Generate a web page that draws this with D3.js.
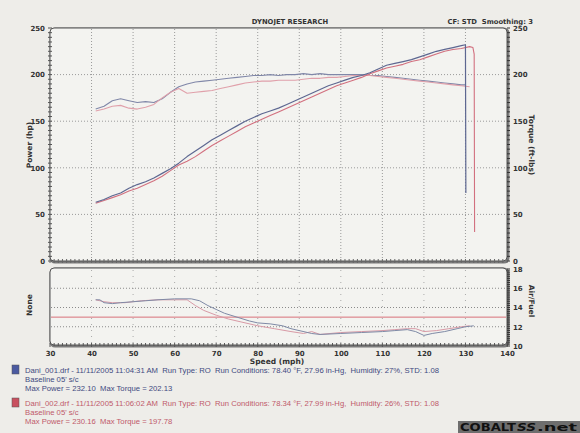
<!DOCTYPE html>
<html>
<head>
<meta charset="utf-8">
<script src="https://cdn.jsdelivr.net/npm/d3@7/dist/d3.min.js"></script>
<style>
  body { margin:0; background:#eeede9; }
  svg { display:block; }
  .tick text { font-family:"DejaVu Sans", Verdana, sans-serif; font-weight:bold; fill:#333; }
</style>
</head>
<body>
<script>
// speed (mph) samples for power / torque runs
var speedA = [41,43,45,47,49,51,53,55,57,59,61,63,65,67,69,71,73,75,77,79,81,83,85,87,89,91,93,95,97,99,101,103,105,107,109,111,113,115,117,119,121,123,125,127,129,130,130.1];
var powerA = [63,66,70,73,78,82,85,89,94,99,105,112,118,124,130,135,140,145,150,154,158,161,164,168,172,176,180,184,188,191,194,197,199,202,206,210,212,214,216,219,222,225,227,229,231,232,73];
var torqueA = [163,166,172,174,172,170,171,170,174,181,187,190,192,193,194,195,196,197,198,199,199,200,199,200,200,201,200,201,200,200,200,200,200,199,199,198,197,196,195,194,193,192,191,190,189,189];

var speedB = [41,43,45,47,49,51,53,55,57,59,61,63,65,67,69,71,73,75,77,79,81,83,85,87,89,91,93,95,97,99,101,103,105,107,109,111,113,115,117,119,121,123,125,127,129,131,131.8,132.1,132.2];
var powerB = [62,65,68,71,75,78,82,86,91,97,103,107,112,118,124,129,134,139,144,148,152,156,160,164,168,172,176,180,184,188,191,194,197,201,204,207,209,211,214,216,219,222,225,227,228,230,229,222,31];
var torqueB = [161,163,166,167,164,163,165,168,175,181,185,180,181,182,183,185,187,189,191,192,193,193,194,194,194,195,196,196,197,197,198,199,199,199,198,197,196,195,194,193,192,191,190,189,188,187];

// air/fuel
var afrSpeedA = [41,42,43,45,47,50,53,56,60,64,66,68,70,72,75,78,80,83,86,88,90,93,95,100,105,110,113,116,118,120,122,125,128,130,132];
var afrA = [14.8,14.8,14.5,14.4,14.5,14.6,14.7,14.8,14.9,14.9,14.7,14.2,13.8,13.4,13.0,12.6,12.4,12.3,12.1,11.8,11.6,11.3,11.2,11.3,11.4,11.5,11.6,11.7,11.5,11.1,11.3,11.5,11.8,12.0,12.1];
var afrSpeedB = [41,43,45,48,52,56,60,63,65,67,70,73,76,80,84,88,91,93,95,100,105,110,113,116,118,120,123,126,129,131];
var afrB = [14.8,14.6,14.5,14.5,14.7,14.8,14.8,14.8,14.2,13.7,13.2,12.8,12.5,12.1,11.8,11.5,11.3,11.5,11.2,11.4,11.5,11.6,11.7,11.8,11.8,11.5,11.6,11.8,12.0,12.1];
var afrTarget = 13;

var speedTicks = [30,40,50,60,70,80,90,100,110,120,130,140];
var powerTicks = [0,50,100,150,200,250];
var afrTicks = [10,12,14,16,18];

var legendA = ["Dani_001.drf - 11/11/2005 11:04:31 AM  Run Type: RO  Run Conditions: 78.40 \u00b0F, 27.96 in-Hg,  Humidity: 27%, STD: 1.08",
               "Baseline 05' s/c", "Max Power = 232.10  Max Torque = 202.13"];
var legendB = ["Dani_002.drf - 11/11/2005 11:06:02 AM  Run Type: RO  Run Conditions: 78.34 \u00b0F, 27.99 in-Hg,  Humidity: 26%, STD: 1.08",
               "Baseline 05' s/c", "Max Power = 230.16  Max Torque = 197.78"];

var blue = "#5d6791", red = "#d2707f";
var W = 580, H = 433;
var L = 50, R = 507;

var svg = d3.select("body").append("svg").attr("width", W).attr("height", H);

var x = d3.scaleLinear().domain([30,140]).range([L,R]);
var y = d3.scaleLinear().domain([0,250]).range([261,28]);
var ya = d3.scaleLinear().domain([10,18]).range([346,269]);

function frame(top, bottom) {
  svg.append("rect").attr("x",L+1).attr("y",top+1).attr("width",R-L).attr("height",bottom-top)
    .attr("rx",4).attr("fill","none").attr("stroke","#7b7b7b").attr("stroke-width",3);
  svg.append("rect").attr("x",L).attr("y",top).attr("width",R-L).attr("height",bottom-top)
    .attr("rx",4).attr("fill","#f3f3f0").attr("stroke","#555").attr("stroke-width",1);
}
frame(28, 261);
frame(268, 345);

// grids
var gridTop = svg.append("g");
gridTop.selectAll(".vg").data(speedTicks.slice(1,-1)).enter().append("line")
  .attr("x1",d=>x(d)).attr("x2",d=>x(d)).attr("y1",29).attr("y2",260)
  .attr("stroke","#9a9a9a").attr("stroke-dasharray","1,2");
gridTop.selectAll(".hg").data(powerTicks.slice(1,-1)).enter().append("line")
  .attr("x1",L+1).attr("x2",R-1).attr("y1",d=>y(d)).attr("y2",d=>y(d))
  .attr("stroke","#9a9a9a").attr("stroke-dasharray","1,2");
var gridLow = svg.append("g");
gridLow.selectAll(".vg").data(speedTicks.slice(1,-1)).enter().append("line")
  .attr("x1",d=>x(d)).attr("x2",d=>x(d)).attr("y1",270).attr("y2",344)
  .attr("stroke","#aaa").attr("stroke-dasharray","1,5");
gridLow.selectAll(".hg").data(afrTicks.slice(1,-1)).enter().append("line")
  .attr("x1",L+1).attr("x2",R-1).attr("y1",d=>ya(d)).attr("y2",d=>ya(d))
  .attr("stroke","#8a8a8a").attr("stroke-dasharray","1,2");

// axes
function style(g, size) {
  g.select(".domain").remove();
  g.selectAll("text").style("font-size", size+"px");
  return g;
}
style(svg.append("g").attr("transform","translate("+L+",0)")
  .call(d3.axisLeft(y).tickValues(powerTicks).tickSize(0).tickPadding(5)), 7);
style(svg.append("g").attr("transform","translate("+(R+1)+",0)")
  .call(d3.axisRight(y).tickValues(powerTicks).tickSize(0).tickPadding(5)), 7);
style(svg.append("g").attr("transform","translate("+(R+1)+",0)")
  .call(d3.axisRight(ya).tickValues(afrTicks).tickSize(0).tickPadding(5)), 7);
style(svg.append("g").attr("transform","translate(0,345)")
  .call(d3.axisBottom(x).tickValues(speedTicks).tickSize(0).tickPadding(6)), 7);

// minor ticks
svg.append("g").selectAll("line").data(y.ticks(50)).enter().append("line")
  .attr("x1",L-2).attr("x2",L+2).attr("y1",d=>y(d)).attr("y2",d=>y(d)).attr("stroke","#555");
svg.append("g").selectAll("line").data(y.ticks(50)).enter().append("line")
  .attr("x1",R).attr("x2",R+3).attr("y1",d=>y(d)).attr("y2",d=>y(d)).attr("stroke","#333");
svg.append("g").selectAll("line").data(x.ticks(110)).enter().append("line")
  .attr("x1",d=>x(d)).attr("x2",d=>x(d)).attr("y1",343).attr("y2",d=>d%10===0?347:346).attr("stroke","#555");
svg.append("g").selectAll("line").data(x.ticks(110)).enter().append("line")
  .attr("x1",d=>x(d)).attr("x2",d=>x(d)).attr("y1",259).attr("y2",263).attr("stroke","#666");
svg.append("g").selectAll("line").data(ya.ticks(40)).enter().append("line")
  .attr("x1",R).attr("x2",R+3).attr("y1",d=>ya(d)).attr("y2",d=>ya(d)).attr("stroke","#333");

// curves
var line = d3.line().x(d=>x(d[0])).y(d=>y(d[1]));
var lineA = d3.line().x(d=>x(d[0])).y(d=>ya(d[1]));
function draw(xs, ys, gen, col, w) {
  svg.append("path").datum(d3.zip(xs, ys)).attr("d", gen)
    .attr("fill","none").attr("stroke",col).attr("stroke-width",w).attr("stroke-linejoin","round");
}
draw(speedA, torqueA, line, "#8087a8", 1.1);
draw(speedB, torqueB, line, "#e0a0aa", 1.1);
draw(speedB, powerB, line, red, 1.1);
draw(speedA, powerA, line, blue, 1.2);

svg.append("line").attr("x1",L+1).attr("x2",R-1).attr("y1",ya(afrTarget)).attr("y2",ya(afrTarget))
  .attr("stroke","#d8707a").attr("stroke-width",1);
draw(afrSpeedB, afrB, lineA, "#d89aa6", 1);
draw(afrSpeedA, afrA, lineA, "#7f8aa6", 1);

// titles
function label(t, px, py, opts) {
  opts = opts || {};
  var s = svg.append("text").attr("x",px).attr("y",py).text(t)
    .attr("font-family","DejaVu Sans, Verdana, sans-serif").attr("font-weight","bold")
    .attr("font-size",opts.size||7.5).attr("fill","#333").attr("text-anchor",opts.anchor||"middle");
  if (opts.rot) s.attr("transform","rotate("+opts.rot+","+px+","+py+")");
  return s;
}
label("DYNOJET RESEARCH", 290, 24, {size:6.8});
label("CF: STD  Smoothing: 3", 533, 23.5, {size:6.8, anchor:"end"}).style("white-space","pre");
label("Power (hp)", 32, 145, {rot:-90});
label("Torque (ft-lbs)", 529, 145, {rot:90});
label("None", 32, 305, {rot:-90});
label("Air/Fuel", 529, 301, {rot:90});
label("Speed (mph)", 277, 364);

// legend
function legend(lines, top, col, sw) {
  svg.append("rect").attr("x",12).attr("y",top-6).attr("width",7).attr("height",9)
    .attr("fill",sw).attr("stroke","#555").attr("stroke-width",0.5);
  lines.forEach(function(t,i) {
    svg.append("text").attr("x",25).attr("y",top+2+i*9).text(t).style("white-space","pre")
      .attr("font-family","Liberation Sans, Arial, sans-serif").attr("font-size",7.7).attr("fill",col);
  });
}
legend(legendA, 371, "#3e4a80", "#4b5aa0");
legend(legendB, 404, "#c05a6a", "#c8505f");

// logo
svg.append("rect").attr("x",458).attr("y",421).attr("width",122).attr("height",12).attr("fill","#6e6e6e");
var logo = svg.append("text").attr("y",430.5)
  .attr("font-family","DejaVu Sans, sans-serif").attr("font-weight","bold").attr("font-size",10).attr("fill","#111");
logo.append("tspan").attr("x",460).attr("textLength",56).attr("lengthAdjust","spacingAndGlyphs").text("COBALT");
logo.append("tspan").attr("x",517).attr("textLength",19).attr("lengthAdjust","spacingAndGlyphs").attr("font-style","italic").text("SS");
logo.append("tspan").attr("x",537).attr("textLength",40).attr("lengthAdjust","spacingAndGlyphs").text(".net");
</script>
</body>
</html>
